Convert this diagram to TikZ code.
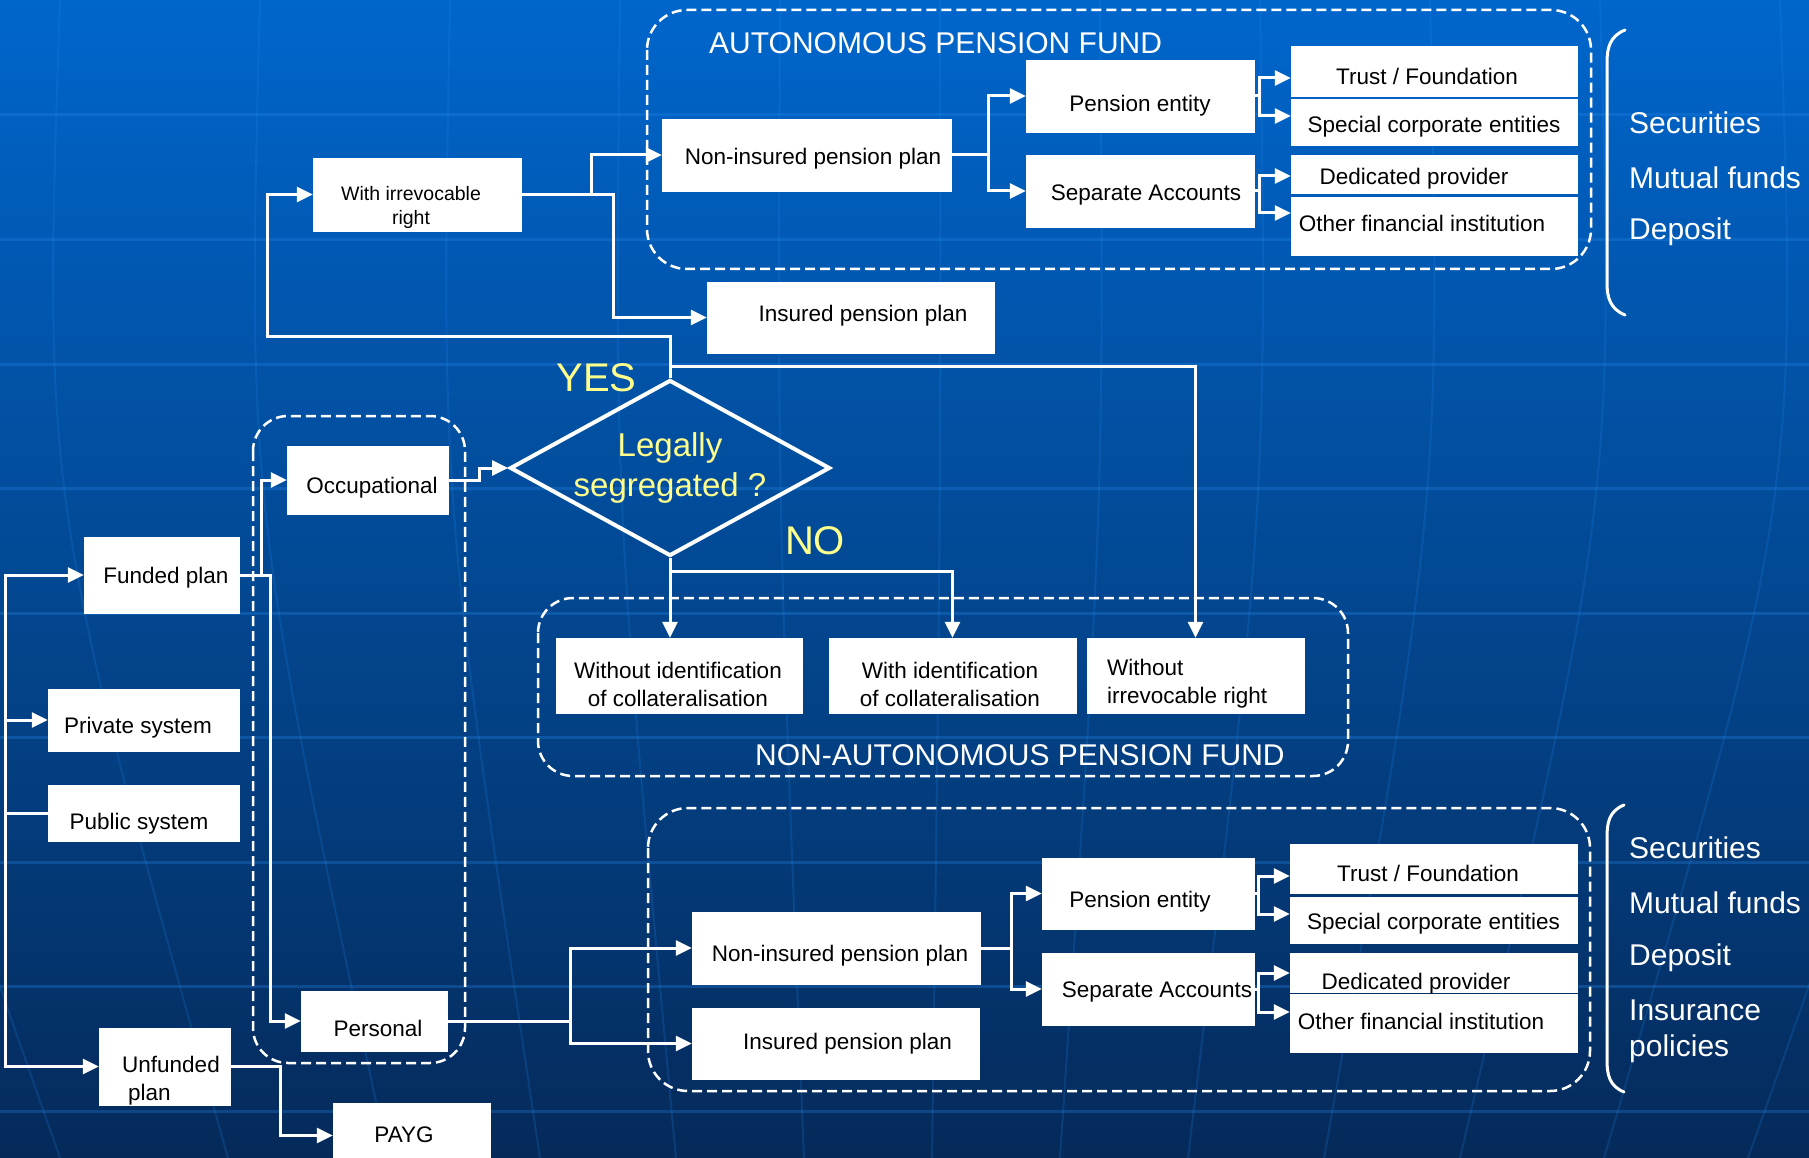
\documentclass[tikz,border=0pt]{standalone}
\usepackage{fontspec}
\setmainfont{Liberation Sans}
\usetikzlibrary{arrows.meta,shapes.geometric}
\definecolor{bgtop}{RGB}{0,102,204}
\definecolor{bgmid}{RGB}{0,76,158}
\definecolor{bgbot}{RGB}{5,42,90}
\definecolor{yel}{RGB}{255,255,140}
\definecolor{gridc}{RGB}{40,140,240}
\begin{document}
\begin{tikzpicture}[x=1pt,y=-1pt,
  box/.style={draw=white, fill=white, line width=0.4pt, inner sep=2pt, align=center, text=black, font=\fontsize{22.5}{28}\selectfont},
  ty/.style={text height=#1pt, text depth=4pt},
  boxtxt/.style={text=black, inner sep=0pt, font=\fontsize{22.5}{28}\selectfont},
  arr/.style={draw=white, line width=3pt, -{Triangle[length=16pt,width=15pt]}},
  wline/.style={draw=white, line width=3pt},
  grp/.style={draw=white, line width=2.5pt, dash pattern=on 10pt off 5pt, rounded corners=40pt},
  titletxt/.style={text=white, font=\fontsize{30}{36}\selectfont, inner sep=0pt},
  listtxt/.style={text=white, font=\fontsize{30}{36}\selectfont, inner sep=0pt, anchor=west, align=left},
  yeltxt/.style={text=yel, font=\fontsize{40}{46}\selectfont, inner sep=0pt},
  brk/.style={draw=white, line width=3pt, line cap=round}
]
\useasboundingbox (0,0) rectangle (1809,1158);
\clip (0,0) rectangle (1809,1158);
\shade[top color=bgtop, middle color=bgmid, bottom color=bgbot] (0,0) rectangle (1809,1158);
% faint background grid (globe lines)
\foreach \g in {115,239.5,364,488.5,613,737.5,862,986.5,1111}
  \draw[gridc, opacity=0.28, line width=3pt] (0,\g) -- (1809,\g);
\foreach \m in {-150,60,260,450,620,780,940,1100,1260,1430,1600,1780,1960}
  \draw[gridc, opacity=0.18, line width=2pt] (\m,0) .. controls ({900+(\m-900)*1.02},500) .. ({900+(\m-900)*0.8},1158);

% dashed groups
\draw[grp] (647,10) rectangle (1591,269);
\draw[grp, rounded corners=35pt] (253,416) rectangle (465,1063);
\draw[grp, rounded corners=35pt] (538,598) rectangle (1348,776);
\draw[grp] (648,808) rectangle (1590,1091);

\node[titletxt, anchor=west] (t1) at (709,43) {AUTONOMOUS PENSION FUND};
\node[titletxt, anchor=west] (t2) at (755,755) {NON-AUTONOMOUS PENSION FUND};

% top part
\node[box, minimum width=208pt, minimum height=73pt] (wir) at (417,194.5) {};
\node[boxtxt, align=center, font=\fontsize{19.5}{24}\selectfont] (wirt) at (411,207) {With irrevocable\\right};
\node[box, ty=24, minimum width=289pt, minimum height=72pt] (ni1) at (806.5,155) {\hspace*{13pt}Non-insured pension plan};
\node[box, ty=11, minimum width=287pt, minimum height=71pt] (ip1) at (850.5,317.5) {\hspace*{25pt}Insured pension plan};
\node[box, ty=36, minimum width=228pt, minimum height=72pt] (pe1) at (1140,96) {Pension entity};
\node[box, ty=24, minimum width=228pt, minimum height=72pt] (sa1) at (1140,191) {\hspace*{12pt}Separate Accounts};
\node[box, ty=32, minimum width=286pt, minimum height=50pt] (tf1) at (1434,71) {Trust / Foundation\hspace*{14pt}};
\node[box, ty=26, minimum width=286pt, minimum height=46pt] (sc1) at (1434,122) {Special corporate entities};
\node[box, ty=25, minimum width=286pt, minimum height=38pt] (dp1) at (1434,174) {Dedicated provider\hspace*{40pt}};
\node[box, ty=15, minimum width=286pt, minimum height=58pt] (of1) at (1434,226) {Other financial institution\hspace*{24pt}};

% middle part
\node[box, ty=31, minimum width=161pt, minimum height=68pt] (occ) at (367.5,480) {\hspace*{9pt}Occupational};
\node[draw=white, line width=4pt, diamond, minimum width=320pt, minimum height=176pt, inner sep=0pt] (dia) at (670,468) {};
\node[text=yel, font=\fontsize{33}{40}\selectfont, align=center, inner sep=0pt] (diat) at (dia.center) {Legally\\segregated ?};
\node[yeltxt] (yes) at (596.5,378) {YES};
\node[yeltxt] (no) at (815,541) {NO};

\node[box, ty=20, minimum width=155pt, minimum height=76pt] (fp) at (161.5,575) {\hspace*{9pt}Funded plan};
\node[box, ty=30, minimum width=191pt, minimum height=62pt] (ps) at (143.5,720) {Private system\hspace*{11pt}};
\node[box, ty=36, minimum width=191pt, minimum height=56pt] (pub) at (143.5,813) {Public system\hspace*{9pt}};

\node[box, minimum width=246pt, minimum height=75pt] (woid) at (679,675.5) {};
\node[boxtxt, align=center] (woidt) at (678,684) {Without identification\\of collateralisation};
\node[box, minimum width=247pt, minimum height=75pt] (wid) at (952.5,675.5) {};
\node[boxtxt, align=center] (widt) at (950,684) {With identification\\of collateralisation};
\node[box, minimum width=217pt, minimum height=75pt] (woir) at (1195.5,675.5) {};
\node[boxtxt, align=left, anchor=west] (woirt) at (1107,684) {Without\\irrevocable right};

\node[box, ty=34, minimum width=146pt, minimum height=60pt] (pers) at (374,1021) {\hspace*{8pt}Personal};
\node[box, minimum width=131pt, minimum height=77pt] (unf) at (164.5,1066.5) {};
\node[boxtxt, align=left, anchor=west] (unft) at (122,1081) {Unfunded\\\hspace*{6pt}plan};
\node[box, ty=18, minimum width=157pt, minimum height=65pt] (payg) at (411.5,1135.5) {PAYG\hspace*{15pt}};

% bottom part
\node[box, ty=30, minimum width=288pt, minimum height=72pt] (ni2) at (836,948) {\hspace*{8pt}Non-insured pension plan};
\node[box, ty=16, minimum width=287pt, minimum height=71pt] (ip2) at (835.5,1043.5) {\hspace*{24pt}Insured pension plan};
\node[box, ty=31, minimum width=212pt, minimum height=71pt] (pe2) at (1148,893.5) {Pension entity\hspace*{16pt}};
\node[box, ty=20, minimum width=212pt, minimum height=72pt] (sa2) at (1148,989) {\hspace*{18pt}Separate Accounts};
\node[box, ty=29, minimum width=287pt, minimum height=49pt] (tf2) at (1433.5,868.5) {Trust / Foundation\hspace*{11pt}};
\node[box, ty=22, minimum width=287pt, minimum height=46pt] (sc2) at (1433.5,920) {Special corporate entities};
\node[box, text height=33pt, text depth=0pt, minimum width=287pt, minimum height=39pt] (dp2) at (1433.5,972.5) {Dedicated provider\hspace*{35pt}};
\node[box, ty=16, minimum width=287pt, minimum height=58pt] (of2) at (1433.5,1023) {Other financial institution\hspace*{25pt}};

% right-hand lists
\node[listtxt] (s1) at (1629,123) {Securities};
\node[listtxt] (m1) at (1629,178) {Mutual funds};
\node[listtxt] (d1) at (1629,232) {Deposit};
\node[listtxt] (s2) at (1629,848) {Securities};
\node[listtxt] (m2) at (1629,903) {Mutual funds};
\node[listtxt] (d2) at (1629,958) {Deposit};
\node[listtxt] (i2) at (1629,1031) {Insurance\\policies};

% brackets
\draw[brk] (1625,30) .. controls (1610,36) and (1607,48) .. (1607,62) -- (1607,283) .. controls (1607,297) and (1610,309) .. (1625,315);
\draw[brk] (1624,805) .. controls (1609,811) and (1607,823) .. (1607,837) -- (1607,1060) .. controls (1607,1074) and (1609,1086) .. (1624,1092);

% connectors
\coordinate (trk) at (5,575);
\draw[arr] (trk |- unf.west) -- (trk) -- (fp.west);
\draw[arr] (trk) |- (unf.west);
\draw[arr] (trk) |- (ps.west);
\draw[wline] (trk) |- (pub.west);

\draw[arr] (fp.east) -- ++(22,0) |- (occ.west);
\draw[arr] (fp.east) -- ++(31,0) |- (pers.west);
\draw[arr] (unf.east) -- ++(50,0) |- (payg.west);
\draw[arr] (occ.east) -- ++(31,0) |- (dia.west);

\coordinate (y2) at (267,336);
\coordinate (yb) at (670,366);
\coordinate (nb) at (670,571);
\draw[arr] (dia.north) -- (dia.north |- y2) -- (y2) |- (wir.west);
\draw[arr] (yb) -| (woir.north);
\draw[arr] (dia.south) -- (dia.south |- woid.north);
\draw[arr] (nb) -| (wid.north);

\draw[arr] (wir.east) -- ++(70,0) |- (ni1.west);
\draw[arr] (wir.east) -- ++(92,0) |- (ip1.west);
\draw[arr] (ni1.east) -- ++(37,0) |- (pe1.west);
\draw[arr] (ni1.east) -- ++(37,0) |- (sa1.west);
\draw[arr] (pe1.east) -- ++(5,0) |- ([yshift=-7pt]tf1.west);
\draw[arr] (pe1.east) -- ++(5,0) |- ([yshift=6pt]sc1.west);
\draw[arr] (sa1.east) -- ++(5,0) |- ([yshift=-2pt]dp1.west);
\draw[arr] (sa1.east) -- ++(5,0) |- ([yshift=13pt]of1.west);

\draw[arr] (pers.east) -- ++(123,0) |- (ni2.west);
\draw[arr] (pers.east) -- ++(123,0) |- (ip2.west);
\draw[arr] (ni2.east) -- ++(31,0) |- (pe2.west);
\draw[arr] (ni2.east) -- ++(31,0) |- (sa2.west);
\draw[arr] (pe2.east) -- ++(4,0) |- ([yshift=-7.5pt]tf2.west);
\draw[arr] (pe2.east) -- ++(4,0) |- ([yshift=6pt]sc2.west);
\draw[arr] (sa2.east) -- ++(4,0) |- ([yshift=-0.5pt]dp2.west);
\draw[arr] (sa2.east) -- ++(4,0) |- ([yshift=11pt]of2.west);
\end{tikzpicture}
\end{document}
